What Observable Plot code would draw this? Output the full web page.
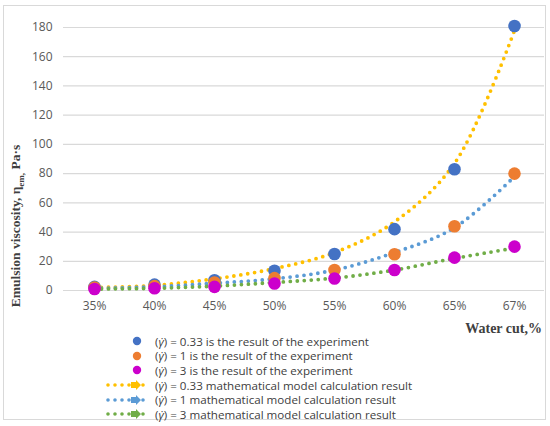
<!DOCTYPE html>
<html><head><meta charset="utf-8">
<script src="https://cdn.jsdelivr.net/npm/d3@7"></script>
<script src="https://cdn.jsdelivr.net/npm/@observablehq/plot@0.6"></script>
<style>
body{margin:0;background:#fff;width:550px;height:426px;position:relative;overflow:hidden;}
#frame{position:absolute;left:3px;top:5px;width:543px;height:415px;border:1px solid #d9d9d9;box-sizing:border-box;}
#chart{position:absolute;left:0;top:0;}
#ytitle{position:absolute;left:16px;top:226px;transform:translate(-50%,-50%) rotate(-90deg);white-space:nowrap;font:bold 13.5px "Liberation Serif",serif;color:#404040;line-height:14px;}
#xtitle{position:absolute;right:8px;top:321px;font:bold 14px "Liberation Serif",serif;color:#404040;line-height:16px;}
#legend{position:absolute;left:105px;top:334px;font:11.6px "Open Sans",sans-serif;color:#404040;}
.row{display:flex;align-items:center;height:14.6px;line-height:13px;}
.row svg{flex:none;}
.row span{margin-left:2px;white-space:nowrap;line-height:13px;}
</style></head>
<body>
<div id="frame"></div>
<div id="chart"></div>
<div id="ytitle">Emulsion viscosity, η<sub style="font-size:9px;line-height:0">em,</sub> Pa·s</div>
<div id="xtitle">Water cut,%</div>
<div id="legend"></div>
<script>
const waterCut = ["35%","40%","45%","50%","55%","60%","65%","67%"];
const exp033 = [2.5, 4, 7, 13.5, 25, 42, 83, 181];
const exp1   = [2, 3, 5.5, 8.5, 14, 24.8, 44, 80];
const exp3   = [1, 1.5, 2.5, 4.8, 8.2, 14, 22.5, 30];
const model033 = [2, 3.5, 8, 15, 26, 47, 87, 178];
const model1   = [1.5, 2.5, 5, 8, 14, 26, 43, 78];
const model3   = [1, 1.5, 3, 5.5, 8.5, 14, 22, 29];
const yTicks = [0,20,40,60,80,100,120,140,160,180];

const expSeries = [
  {key:"e033", values:exp033, color:"#4472C4", label:"= 0.33 is the result of the experiment"},
  {key:"e1", values:exp1, color:"#ED7D31", label:"= 1 is the result of the experiment"},
  {key:"e3", values:exp3, color:"#CC00CC", label:"= 3 is the result of the experiment"}
];
const modelSeries = [
  {key:"m033", values:model033, color:"#FFC000", label:"= 0.33 mathematical model calculation result"},
  {key:"m1", values:model1, color:"#5B9BD5", label:"= 1 mathematical model calculation result"},
  {key:"m3", values:model3, color:"#70AD47", label:"= 3 mathematical model calculation result"}
];
const rows = s => s.values.map((v,i)=>({x:waterCut[i], y:v, key:s.key}));

const marks = [
  Plot.gridY(yTicks, {stroke:"#d9d9d9", strokeOpacity:1, strokeWidth:1.2}),
  Plot.axisY(yTicks, {tickSize:0, tickPadding:11, label:null, fontSize:12, fill:"#595959"}),
  Plot.axisX({tickSize:0, tickPadding:11, label:null, fontSize:12, fill:"#595959"})
];
for (const s of modelSeries) {
  marks.push(Plot.line(rows(s), {x:"x", y:"y", stroke:s.color, strokeWidth:3.8, strokeDasharray:"0,7", strokeLinecap:"round", curve:"catmull-rom"}));
}
for (const s of expSeries) {
  marks.push(Plot.dot(rows(s), {x:"x", y:"y", fill:s.color, r:6.3}));
}

const plot = Plot.plot({
  width:550, height:320,
  marginLeft:63, marginRight:6, marginTop:27, marginBottom:30,
  style:{fontFamily:"'Open Sans', sans-serif", background:"transparent"},
  x:{type:"point", domain:waterCut, padding:0.5},
  y:{domain:[0,180]},
  marks
});
document.getElementById("chart").appendChild(plot);

const legend = d3.select("#legend");
const gamma = '(<i>γ̇</i>) ';
for (const s of expSeries) {
  const r = legend.append("div").attr("class","row");
  const svg = r.append("svg").attr("width",48).attr("height",14);
  svg.append("circle").attr("cx",32).attr("cy",7).attr("r",4.2).attr("fill",s.color);
  r.append("span").html(gamma + s.label);
}
for (const s of modelSeries) {
  const r = legend.append("div").attr("class","row");
  const svg = r.append("svg").attr("width",48).attr("height",14);
  svg.append("line").attr("x1",3).attr("x2",45).attr("y1",7).attr("y2",7)
    .attr("stroke",s.color).attr("stroke-width",3.6).attr("stroke-dasharray","0,7").attr("stroke-linecap","round");
  svg.append("path").attr("d","M26,4 L31,4 L31,2 L36,7 L31,12 L31,10 L26,10 Z").attr("fill",s.color);
  r.append("span").html(gamma + s.label);
}
</script>
</body></html>
